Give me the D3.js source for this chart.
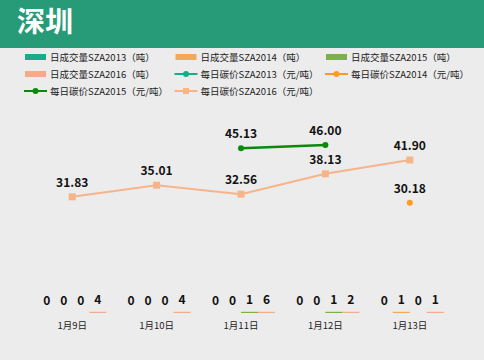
<!DOCTYPE html>
<html>
<head>
<meta charset="utf-8">
<script src="https://cdn.jsdelivr.net/npm/d3@7"></script>
<style>
  body { margin: 0; background: #ececec; }
  svg { display: block; font-family: "Noto Sans CJK SC", "Noto Sans", sans-serif; }
</style>
</head>
<body>
<svg width="484" height="360"></svg>
<script>
// data
var days = ["1月9日", "1月10日", "1月11日", "1月12日", "1月13日"];
var volNames = ["日成交量SZA2013（吨）", "日成交量SZA2014（吨）", "日成交量SZA2015（吨）", "日成交量SZA2016（吨）"];
var priceNames = ["每日碳价SZA2013（元/吨）", "每日碳价SZA2014（元/吨）", "每日碳价SZA2015（元/吨）", "每日碳价SZA2016（元/吨）"];
var vol2013 = [0, 0, 0, 0, 0];
var vol2014 = [0, 0, 0, 0, 1];
var vol2015 = [0, 0, 1, 1, 0];
var vol2016 = [4, 4, 6, 2, 1];
var price2013 = [null, null, null, null, null];
var price2014 = [null, null, null, null, 30.18];
var price2015 = [null, null, 45.13, 46.00, null];
var price2016 = [31.83, 35.01, 32.56, 38.13, 41.90];

var volColors = ["#1aab8a", "#f4a95a", "#7cb04a", "#f4ab8c"];
var priceColors = ["#1aab8a", "#ff9a22", "#0a8a0a", "#f7b48a"];
var vols = [vol2013, vol2014, vol2015, vol2016];
var prices = [price2013, price2014, price2015, price2016];

var svg = d3.select("svg"),
    plotTop = 94,
    plotBottom = 313;

// header
svg.append("rect").attr("width", 484).attr("height", 48).attr("fill", "#279a77");
svg.append("text")
    .attr("x", 17).attr("y", 32)
    .attr("fill", "#fff")
    .attr("font-size", "28px")
    .attr("font-weight", "bold")
    .text("深圳");

// legend
var legendItems = volNames.map(function(n, i) { return {name: n, type: "bar", color: volColors[i]}; })
    .concat(priceNames.map(function(n, i) { return {name: n, type: "line", color: priceColors[i], square: i == 3}; }));

var lg = svg.selectAll(".legendItem")
    .data(legendItems)
    .enter().append("g")
    .attr("class", "legendItem")
    .attr("transform", function(d, i) {
        var x = 25 + (i % 3) * 150.5;
        var y = 57 + Math.floor(i / 3) * 17;
        return "translate(" + x + "," + y + ")";
    });

lg.filter(d => d.type == "bar").append("rect")
    .attr("x", 0).attr("y", -3).attr("width", 21).attr("height", 6)
    .attr("fill", d => d.color);
lg.filter(d => d.type == "line").append("line")
    .attr("x1", -1).attr("x2", 22).attr("y1", 0).attr("y2", 0)
    .attr("stroke", d => d.color).attr("stroke-width", 2);
lg.filter(d => d.type == "line" && !d.square).append("circle")
    .attr("cx", 10.5).attr("cy", 0).attr("r", 3)
    .attr("fill", d => d.color);
lg.filter(d => d.square).append("rect")
    .attr("x", 7.5).attr("y", -3).attr("width", 6).attr("height", 6)
    .attr("fill", d => d.color);
lg.append("text")
    .attr("x", 25).attr("y", 3.5)
    .attr("font-size", "9.5px")
    .attr("fill", "#222")
    .text(d => d.name);

// scales
var xScale = d3.scaleBand().domain(days).range([30, 452]).padding(0),
    xSub = d3.scaleBand().domain(d3.range(4)).range([0, 68]),
    yVol = d3.scaleLinear().domain([0, 1500]).range([plotBottom, plotTop]),
    yPrice = d3.scaleLinear().domain([0, 60]).range([plotBottom, plotTop]);

// x axis labels
var xAxis = svg.append("g")
    .attr("transform", "translate(0," + plotBottom + ")")
    .call(d3.axisBottom(xScale).tickSize(0).tickPadding(9));
xAxis.select(".domain").remove();
xAxis.selectAll("text")
    .attr("font-size", "9.5px")
    .attr("fill", "#222")
    .style("font-family", "\"Noto Sans CJK SC\", sans-serif");

// bars
var bars = [];
vols.forEach(function(s, si) {
    s.forEach(function(v, di) { bars.push({series: si, day: days[di], value: v}); });
});

function barX(d) { return xScale(d.day) + xScale.bandwidth() / 2 - 34 + xSub(d.series); }
function barH(d) { return d.value > 0 ? Math.max(1.2, plotBottom - yVol(d.value)) : 0; }

svg.selectAll(".bar")
    .data(bars)
    .enter().append("rect")
    .attr("class", "bar")
    .attr("x", barX)
    .attr("y", d => plotBottom - barH(d))
    .attr("width", xSub.bandwidth())
    .attr("height", barH)
    .attr("fill", d => volColors[d.series]);

svg.selectAll(".barLabel")
    .data(bars)
    .enter().append("text")
    .attr("class", "barLabel")
    .attr("x", d => barX(d) + xSub.bandwidth() / 2)
    .attr("y", d => plotBottom - barH(d) - 8)
    .attr("text-anchor", "middle")
    .attr("font-size", "12px")
    .attr("font-weight", "bold")
    .attr("fill", "#111")
    .text(d => d.value);

// price lines
var line = d3.line()
    .defined(d => d.value != null)
    .x(d => xScale(d.day) + xScale.bandwidth() / 2)
    .y(d => yPrice(d.value));

prices.forEach(function(s, si) {
    var pts = s.map(function(v, di) { return {day: days[di], value: v}; });
    svg.append("path")
        .datum(pts)
        .attr("fill", "none")
        .attr("stroke", priceColors[si])
        .attr("stroke-width", si == 2 ? 2.5 : 2)
        .attr("d", line);
    var valid = pts.filter(d => d.value != null);
    if (si == 3) {
        svg.selectAll(".pt" + si).data(valid).enter().append("rect")
            .attr("x", d => xScale(d.day) + xScale.bandwidth() / 2 - 3.5)
            .attr("y", d => yPrice(d.value) - 3.5)
            .attr("width", 7).attr("height", 7)
            .attr("fill", priceColors[si]);
    } else {
        svg.selectAll(".pt" + si).data(valid).enter().append("circle")
            .attr("cx", d => xScale(d.day) + xScale.bandwidth() / 2)
            .attr("cy", d => yPrice(d.value))
            .attr("r", 3)
            .attr("fill", priceColors[si]);
    }
    svg.selectAll(".plabel" + si).data(valid).enter().append("text")
        .attr("x", d => xScale(d.day) + xScale.bandwidth() / 2)
        .attr("y", d => yPrice(d.value) - 10)
        .attr("text-anchor", "middle")
        .attr("font-size", "12px")
        .attr("font-weight", "bold")
        .attr("fill", "#111")
        .text(d => d.value.toFixed(2));
});
</script>
</body>
</html>
